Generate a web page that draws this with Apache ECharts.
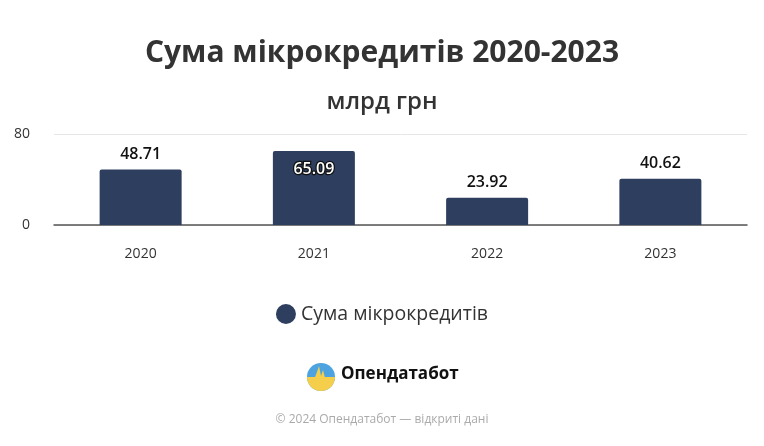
<!DOCTYPE html>
<html>
<head>
<meta charset="utf-8">
<script src="https://cdn.jsdelivr.net/npm/echarts@6/dist/echarts.min.js"></script>
<style>
html,body{margin:0;padding:0;background:#fff;}
#c{width:764px;height:446px;}
</style>
</head>
<body>
<div id="c"></div>
<script>
var categories = ['2020', '2021', '2022', '2023'];
var values = [48.71, 65.09, 23.92, 40.62];
var yTicks = [0, 80];
var seriesName = 'Сума мікрокредитів';
var titleText = 'Сума мікрокредитів 2020-2023';
var subtitleText = 'млрд грн';
var brandText = 'Опендатабот';
var footerText = '© 2024 Опендатабот — відкриті дані';
var insideLabelIndex = 1;

var font = '"Open Sans", "Noto Sans", sans-serif';
var chart = echarts.init(document.getElementById('c'));

var data = values.map(function (v, i) {
  if (i === insideLabelIndex) {
    return {
      value: v,
      label: {
        position: 'insideTop',
        distance: 10,
        color: '#fff',
        textBorderColor: '#111',
        textBorderWidth: 2.5
      }
    };
  }
  return v;
});

chart.setOption({
  animation: false,
  textStyle: { fontFamily: font },
  title: [
    { text: titleText, left: 'center', top: 33,
      textStyle: { fontFamily: font, fontSize: 30, fontWeight: 'bold', color: '#333' } },
    { text: subtitleText, left: 'center', top: 85,
      textStyle: { fontFamily: font, fontSize: 24, fontWeight: 600, color: '#333' } }
  ],
  legend: {
    top: 299, left: 'center',
    icon: 'circle', itemWidth: 20, itemHeight: 20, itemGap: 8,
    textStyle: { fontFamily: font, fontSize: 19.5, color: '#333' },
    data: [seriesName]
  },
  grid: { left: 54, right: 17, top: 134, bottom: 221 },
  xAxis: {
    type: 'category',
    data: categories,
    axisTick: { show: false },
    axisLine: { lineStyle: { color: '#555', width: 1.5 } },
    axisLabel: { margin: 22, fontSize: 14, color: '#333', fontFamily: font }
  },
  yAxis: {
    type: 'value', min: yTicks[0], max: yTicks[yTicks.length - 1], interval: yTicks[1] - yTicks[0],
    axisLabel: { margin: 24, fontSize: 14, color: '#333', fontFamily: font },
    splitLine: { lineStyle: { color: '#e6e6e6' } }
  },
  series: [{
    name: seriesName,
    type: 'bar',
    barWidth: 82,
    data: data,
    itemStyle: { color: '#2e3e5f', borderRadius: [2, 2, 0, 0] },
    label: {
      show: true, position: 'top', distance: 7,
      fontSize: 16, fontWeight: 600, color: '#111', fontFamily: font,
      formatter: function (p) { return p.value.toFixed(2); }
    }
  }],
  graphic: [
    { type: 'circle', shape: { cx: 321, cy: 377, r: 14 }, style: { fill: '#4da3e0' } },
    { type: 'sector', shape: { cx: 321, cy: 377, r: 14, r0: 0, startAngle: 0, endAngle: Math.PI }, style: { fill: '#f5cf4b' } },
    { type: 'polygon', shape: { points: [[311, 378], [315, 377], [317, 372], [319, 366], [321, 376], [323, 370], [325, 378], [331, 378], [331, 380], [311, 380]] }, style: { fill: '#f5cf4b' } },
    { type: 'text', left: 341, top: 366,
      style: { text: brandText, font: 'bold 17px ' + font, fill: '#111' } },
    { type: 'text', left: 'center', top: 414,
      style: { text: footerText, font: '12px ' + font, fill: '#aaa' } }
  ]
});
</script>
</body>
</html>
